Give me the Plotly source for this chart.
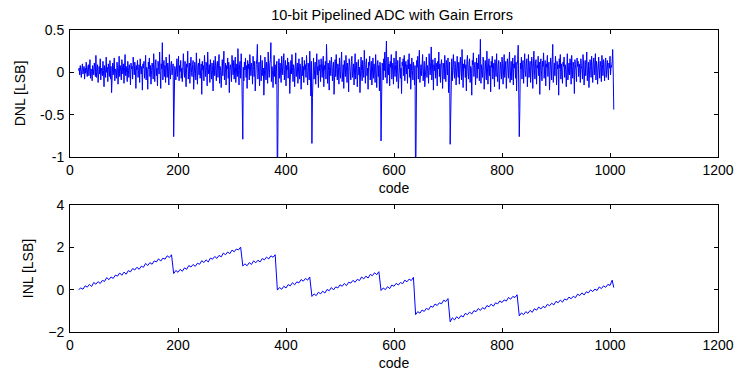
import plotly.graph_objects as go

# ---------------- data ----------------
title_text = "10-bit Pipelined ADC with Gain Errors"
x_label = "code"
dnl_label = "DNL [LSB]"
inl_label = "INL [LSB]"

first_code = 16
last_code = 1007
x_ticks = [0, 200, 400, 600, 800, 1000, 1200]
dnl_ticks = [-1, -0.5, 0, 0.5]
dnl_tick_text = ["-1", "-0.5", "0", "0.5"]
inl_ticks = [-2, 0, 2, 4]

# DNL per code, codes 16..1007 (32 codes per row)
dnl_rows = [
    [0.02, 0.05, -0.03, 0.08, 0.01, -0.06, 0.04, 0.10, -0.02, 0.03, 0.07, -0.08, 0.05, -0.01, 0.12, 0.00, -0.05, 0.06, 0.09, -0.04, 0.02, 0.15, -0.07, 0.04, 0.01, -0.10, 0.08, 0.03, -0.03, 0.11, 0.06, -0.05],
    [0.20, -0.06, 0.04, 0.09, -0.12, 0.03, 0.07, -0.02, 0.16, -0.09, 0.05, 0.01, -0.04, 0.13, 0.02, -0.17, 0.08, 0.04, -0.06, 0.18, 0.00, 0.06, -0.11, 0.10, 0.03, -0.05, 0.14, -0.08, 0.07, -0.24, 0.05, 0.11],
    [-0.03, 0.09, 0.17, -0.10, 0.04, 0.02, -0.07, 0.12, 0.06, -0.14, 0.03, 0.19, -0.05, 0.08, 0.01, -0.09, 0.15, 0.04, -0.02, 0.10, -0.13, 0.06, 0.21, -0.04, 0.07, 0.00, -0.11, 0.13, 0.05, -0.06, 0.09, 0.02],
    [-0.15, 0.11, 0.04, 0.07, -0.08, 0.18, 0.01, -0.03, 0.12, 0.05, -0.19, 0.08, 0.03, 0.14, -0.06, 0.02, 0.09, -0.12, 0.16, 0.04, -0.02, 0.07, -0.21, 0.10, 0.05, 0.13, -0.07, 0.01, 0.20, -0.09, 0.06, 0.03],
    [-0.20, 0.12, 0.04, 0.17, -0.05, 0.08, -0.14, 0.02, 0.11, 0.06, -0.08, 0.22, 0.03, -0.11, 0.09, 0.15, -0.04, 0.05, -0.16, 0.13, 0.07, -0.02, 0.24, 0.01, -0.19, 0.10, 0.04, 0.35, -0.09, 0.06, 0.14, -0.05],
    [0.08, -0.12, 0.18, 0.03, -0.06, 0.11, 0.05, -0.15, 0.21, 0.02, -0.08, 0.09, 0.13, -0.03, 0.06, 0.10, -0.76, -0.42, 0.07, 0.04, -0.09, 0.12, 0.16, -0.05, 0.03, 0.19, -0.10, 0.08, 0.01, 0.14, -0.07, 0.05],
    [-0.11, 0.07, 0.22, 0.02, -0.06, 0.13, 0.04, -0.17, 0.10, 0.06, 0.25, -0.08, 0.03, 0.11, -0.13, 0.07, 0.18, 0.00, -0.05, 0.09, 0.14, -0.20, 0.04, 0.12, 0.06, -0.09, 0.23, 0.02, -0.14, 0.08, 0.11, -0.03],
    [0.16, -0.07, 0.05, 0.10, -0.26, 0.13, 0.03, 0.08, -0.10, 0.20, 0.01, -0.05, 0.12, 0.07, -0.16, 0.24, 0.04, -0.02, 0.09, -0.12, 0.15, 0.06, -0.08, 0.11, 0.03, -0.22, 0.14, 0.08, -0.04, 0.19, 0.02, -0.10],
    [0.09, 0.13, -0.06, 0.04, 0.21, -0.13, 0.07, 0.02, -0.18, 0.10, 0.15, -0.04, 0.06, 0.25, -0.09, 0.03, 0.11, -0.15, 0.08, 0.04, 0.17, -0.07, 0.12, -0.24, 0.05, 0.09, 0.02, -0.11, 0.20, 0.06, -0.03, 0.14],
    [-0.08, 0.07, 0.18, -0.12, 0.04, 0.10, -0.05, 0.28, 0.02, -0.15, 0.09, 0.13, -0.07, 0.22, 0.05, -0.42, -0.79, 0.06, -0.10, 0.12, 0.03, 0.17, -0.06, 0.08, -0.19, 0.14, 0.04, 0.10, -0.09, 0.21, 0.01, -0.04],
    [0.11, 0.05, -0.14, 0.19, 0.07, -0.05, 0.13, -0.22, 0.04, 0.09, 0.16, 0.33, -0.08, 0.06, 0.12, -0.16, 0.03, 0.20, -0.10, 0.08, 0.14, -0.04, 0.05, -0.27, 0.10, 0.18, 0.02, -0.09, 0.12, 0.07, -0.13, 0.24],
    [0.04, -0.06, 0.10, 0.15, 0.35, -0.11, 0.07, 0.02, -0.18, 0.12, 0.20, -0.05, 0.09, -0.14, 0.06, 0.13, -1.50, -0.20, 0.08, 0.16, -0.07, 0.11, 0.03, -0.12, 0.19, 0.05, -0.03, 0.10, 0.22, -0.09, 0.04, 0.14],
    [-0.16, 0.08, 0.03, 0.17, -0.07, 0.12, 0.05, -0.25, 0.10, 0.14, -0.02, 0.21, 0.06, -0.11, 0.09, 0.04, -0.17, 0.13, 0.23, -0.05, 0.07, 0.11, -0.13, 0.02, 0.16, -0.08, 0.10, 0.05, -0.20, 0.12, 0.18, -0.04],
    [0.07, -0.12, 0.14, 0.03, 0.09, -0.06, 0.20, 0.01, -0.15, 0.11, 0.06, -0.09, 0.25, 0.04, -0.28, 0.13, -0.84, -0.30, 0.10, 0.17, -0.08, 0.05, 0.12, -0.14, 0.08, 0.22, -0.03, 0.07, -0.18, 0.15, 0.02, 0.09],
    [-0.11, 0.16, 0.05, -0.06, 0.10, 0.19, -0.17, 0.08, 0.03, 0.13, -0.08, 0.33, 0.06, -0.13, 0.11, 0.02, -0.21, 0.14, 0.07, -0.04, 0.18, 0.09, -0.10, 0.04, 0.12, -0.26, 0.08, 0.15, -0.05, 0.21, 0.03, -0.09],
    [0.10, 0.06, -0.14, 0.17, 0.02, -0.07, 0.12, 0.24, -0.11, 0.05, 0.09, -0.19, 0.14, 0.03, -0.05, 0.20, 0.07, -0.12, 0.11, 0.04, -0.23, 0.16, 0.08, 0.01, -0.09, 0.13, 0.19, -0.06, 0.05, 0.10, -0.15, 0.07],
    [0.22, -0.08, 0.04, 0.12, -0.17, 0.09, 0.15, -0.03, 0.06, -0.24, 0.11, 0.18, 0.02, -0.10, 0.14, 0.07, -0.06, 0.26, 0.03, -0.13, 0.09, 0.16, -0.04, 0.05, -0.20, 0.12, 0.08, 0.19, -0.09, 0.04, 0.13, -0.15],
    [0.06, 0.17, -0.07, 0.10, 0.03, -0.12, 0.21, 0.05, -0.18, 0.09, 0.14, -0.05, 0.08, -0.22, 0.12, 0.04, -0.81, -0.35, 0.11, 0.07, -0.09, 0.16, 0.02, 0.24, -0.06, 0.09, 0.37, -0.13, 0.05, 0.18, -0.03, 0.10],
    [-0.16, 0.13, 0.06, 0.21, -0.08, 0.04, 0.11, -0.14, 0.17, 0.02, -0.05, 0.09, 0.25, -0.11, 0.07, 0.14, -0.19, 0.03, 0.10, 0.18, -0.07, 0.05, -0.25, 0.12, 0.08, 0.16, -0.04, 0.20, -0.10, 0.06, 0.13, -0.02],
    [0.09, -0.13, 0.15, 0.04, 0.22, -0.06, 0.10, -0.20, 0.07, 0.17, 0.02, -0.09, 0.12, 0.05, -0.15, 0.08, -1.55, -0.60, 0.14, 0.06, 0.19, -0.08, 0.11, 0.26, -0.12, 0.05, 0.09, -0.04, 0.16, 0.21, -0.10, 0.07],
    [0.13, -0.17, 0.04, 0.10, 0.18, -0.06, 0.08, 0.03, -0.13, 0.22, 0.07, -0.03, 0.12, 0.30, -0.09, 0.05, 0.15, -0.21, 0.09, 0.02, 0.17, -0.07, 0.11, 0.06, -0.16, 0.13, 0.04, 0.24, -0.05, 0.10, -0.12, 0.08],
    [0.15, 0.03, -0.19, 0.11, 0.06, -0.08, 0.20, 0.04, -0.11, 0.14, 0.09, -0.03, 0.17, -0.24, 0.07, 0.12, -0.85, -0.32, 0.05, 0.16, -0.10, 0.09, 0.21, 0.02, -0.07, 0.13, 0.06, -0.15, 0.11, 0.19, 0.04, -0.06],
    [0.12, -0.14, 0.08, 0.18, 0.03, -0.09, 0.27, 0.06, -0.18, 0.10, 0.05, 0.15, -0.06, 0.09, -0.22, 0.13, 0.20, 0.01, -0.08, 0.11, 0.16, -0.12, 0.07, 0.04, -0.27, 0.14, 0.09, 0.23, -0.05, 0.06, 0.12, -0.15],
    [0.08, 0.17, -0.07, 0.11, 0.04, 0.21, -0.10, 0.06, 0.39, -0.13, 0.09, 0.03, -0.06, 0.18, 0.12, -0.20, 0.07, 0.14, 0.02, -0.09, 0.25, 0.05, -0.14, 0.10, 0.16, -0.04, 0.08, -0.23, 0.13, 0.06, 0.19, -0.08],
    [0.04, 0.11, -0.17, 0.15, 0.07, -0.05, 0.22, 0.02, -0.11, 0.09, 0.14, -0.20, 0.06, 0.12, 0.03, -0.08, 0.18, 0.10, -0.14, 0.05, 0.21, -0.06, 0.08, 0.13, -0.19, 0.04, 0.16, 0.09, -0.07, 0.11, 0.24, -0.12],
    [0.06, 0.13, -0.09, 0.03, 0.17, -0.15, 0.10, 0.05, 0.20, -0.07, 0.12, -0.22, 0.08, 0.15, 0.32, -0.10, -0.76, -0.45, 0.11, 0.04, 0.18, -0.08, 0.09, 0.14, -0.13, 0.06, 0.22, 0.02, -0.05, 0.10, 0.16, -0.17],
    [0.09, 0.21, -0.06, 0.07, 0.13, -0.12, 0.04, 0.18, 0.10, -0.19, 0.06, 0.25, 0.03, -0.08, 0.11, 0.15, -0.14, 0.08, 0.05, 0.19, -0.04, 0.12, -0.26, 0.09, 0.16, 0.02, -0.10, 0.13, 0.07, 0.23, -0.07, 0.04],
    [0.14, -0.16, 0.10, 0.06, 0.20, -0.05, 0.08, 0.12, -0.21, 0.03, 0.17, 0.09, -0.09, 0.15, 0.33, -0.12, 0.06, 0.11, -0.04, 0.19, 0.07, -0.15, 0.13, 0.04, 0.09, -0.27, 0.16, 0.05, 0.21, -0.08, 0.10, 0.03],
    [-0.13, 0.12, 0.07, 0.18, -0.06, 0.09, 0.03, -0.17, 0.14, 0.22, -0.09, 0.05, 0.11, -0.03, 0.16, 0.08, -0.14, 0.20, 0.04, -0.07, 0.12, 0.06, -0.25, 0.15, 0.09, 0.02, -0.11, 0.17, 0.07, 0.13, -0.05, 0.10],
    [0.05, -0.12, 0.16, 0.08, 0.03, -0.08, 0.21, 0.11, -0.15, 0.06, 0.14, -0.04, 0.09, 0.24, -0.10, 0.07, 0.12, -0.18, 0.04, 0.15, 0.08, -0.06, 0.19, 0.02, -0.12, 0.11, 0.17, -0.03, 0.06, 0.22, -0.09, 0.13],
    [0.07, -0.14, 0.10, 0.18, 0.04, -0.07, 0.13, 0.06, -0.11, 0.20, 0.09, -0.04, 0.15, 0.03, -0.10, 0.12, 0.17, -0.06, 0.08, 0.14, 0.02, -0.09, 0.11, 0.05, 0.19, -0.03, 0.08, 0.06, 0.13, 0.27, -0.02, -0.44],
]

# INL sampled every 4 codes (16..1004) plus last code 1007
inl_step = 4
inl_values = [
    # 16 .. 188
    0.00, 0.08, 0.02, 0.18, 0.12, 0.25, 0.15, 0.34, 0.26, 0.38, 0.29, 0.44, 0.39, 0.57, 0.47, 0.60,
    0.53, 0.69, 0.64, 0.79, 0.68, 0.83, 0.73, 0.90, 0.84, 1.00, 0.93, 1.06, 0.96, 1.11, 1.06, 1.24,
    1.14, 1.28, 1.20, 1.36, 1.31, 1.46, 1.35, 1.49, 1.44, 1.60, 1.52, 1.65,
    # 192 .. 316
    0.76, 0.91, 0.82, 0.96, 0.87, 1.03, 0.96, 1.14, 1.07, 1.19, 1.10, 1.25, 1.20, 1.37, 1.28, 1.41,
    1.31, 1.49, 1.44, 1.57, 1.48, 1.62, 1.55, 1.73, 1.65, 1.78, 1.70, 1.87, 1.79, 1.92, 1.88, 2.01,
    # 320 .. 380
    1.12, 1.22, 1.13, 1.28, 1.19, 1.36, 1.27, 1.39, 1.31, 1.47, 1.41, 1.54, 1.45, 1.60, 1.53, 1.65,
    # 384 .. 444
    -0.02, 0.10, 0.02, 0.16, 0.08, 0.24, 0.18, 0.33, 0.23, 0.37, 0.32, 0.48, 0.40, 0.53, 0.45, 0.60,
    # 448 .. 572
    -0.32, -0.20, -0.28, -0.12, -0.20, -0.07, -0.16, 0.01, -0.05, 0.10, -0.01, 0.13, 0.08, 0.23, 0.16, 0.29,
    0.19, 0.35, 0.31, 0.44, 0.35, 0.49, 0.43, 0.60, 0.51, 0.64, 0.55, 0.72, 0.66, 0.80, 0.71, 0.85,
    # 576 .. 636
    -0.04, 0.08, 0.00, 0.14, 0.05, 0.22, 0.16, 0.30, 0.22, 0.34, 0.28, 0.45, 0.37, 0.50, 0.43, 0.58,
    # 640 .. 700
    -1.18, -1.04, -1.11, -0.96, -1.03, -0.88, -0.95, -0.78, -0.83, -0.68, -0.75, -0.62, -0.67, -0.50, -0.56, -0.42,
    # 704 .. 828
    -1.52, -1.33, -1.43, -1.28, -1.37, -1.22, -1.29, -1.12, -1.18, -1.06, -1.15, -0.99, -1.04, -0.89, -0.98, -0.85,
    -0.92, -0.75, -0.81, -0.68, -0.78, -0.62, -0.67, -0.53, -0.61, -0.48, -0.54, -0.37, -0.45, -0.32, -0.37, -0.24,
    # 832 .. 1004
    -1.24, -1.10, -1.18, -1.04, -1.12, -0.98, -1.07, -0.90, -0.97, -0.82, -0.91, -0.79, -0.85, -0.69, -0.76, -0.64,
    -0.72, -0.55, -0.62, -0.49, -0.59, -0.44, -0.49, -0.35, -0.43, -0.31, -0.38, -0.21, -0.28, -0.15, -0.25, -0.10,
    -0.15, -0.01, -0.09, 0.03, -0.04, 0.13, 0.05, 0.18, 0.11, 0.25, 0.20, 0.45,
    # 1007
    0.10,
]

# ---------------- build ----------------
dnl_values = [v for row in dnl_rows for v in row]
dnl_codes = list(range(first_code, first_code + len(dnl_values)))
inl_codes = list(range(first_code, last_code - 2, inl_step)) + [last_code]

line_color = "#0000FF"
font_family = "Liberation Sans, Arial, sans-serif"
font_size = 14

fig = go.Figure()
fig.add_trace(go.Scatter(x=dnl_codes, y=dnl_values, mode="lines",
                         line=dict(color=line_color, width=1),
                         xaxis="x", yaxis="y", showlegend=False, hoverinfo="skip"))
fig.add_trace(go.Scatter(x=inl_codes, y=inl_values, mode="lines",
                         line=dict(color=line_color, width=1),
                         xaxis="x2", yaxis="y2", showlegend=False, hoverinfo="skip"))

axis_common = dict(showline=True, linecolor="#000000", linewidth=1, mirror="ticks",
                   ticks="inside", ticklen=4, tickcolor="#000000", showgrid=False,
                   zeroline=False, automargin=False,
                   tickfont=dict(family=font_family, size=font_size, color="#000"))

fig.update_layout(
    width=735, height=374,
    margin=dict(l=70, r=17, t=30, b=42, autoexpand=False),
    paper_bgcolor="white", plot_bgcolor="white",
    font=dict(family=font_family, size=font_size, color="#000"),
    title=dict(text=title_text, x=0.497, xanchor="center", xref="paper",
               y=0.961, yanchor="middle", yref="container", automargin=False,
               font=dict(family=font_family, size=font_size + 0.5, color="#000")),
    xaxis=dict(domain=[0, 1], range=[0, 1200], tickvals=x_ticks, anchor="y",
               title=dict(text=x_label, standoff=6, font=dict(size=font_size)),
               ticklabelstandoff=0, **axis_common),
    yaxis=dict(domain=[0.5795, 1], range=[-1, 0.5], tickvals=dnl_ticks,
               ticktext=dnl_tick_text, anchor="x",
               title=dict(text=dnl_label, standoff=11, font=dict(size=font_size)),
               ticklabelstandoff=2, **axis_common),
    xaxis2=dict(domain=[0, 1], range=[0, 1200], tickvals=x_ticks, anchor="y2",
                title=dict(text=x_label, standoff=6, font=dict(size=font_size)),
                ticklabelstandoff=0, **axis_common),
    yaxis2=dict(domain=[0, 0.4205], range=[-2, 4], tickvals=inl_ticks, anchor="x2",
                title=dict(text=inl_label, standoff=11, font=dict(size=font_size)),
                ticklabelstandoff=2, **axis_common),
)

# remove the browser's default 8px body margin so the figure sits at the page origin
fig.write_html("out.html",
               config={"displayModeBar": False, "staticPlot": True},
               post_script="document.body.style.margin='0';document.body.style.overflow='hidden';")
